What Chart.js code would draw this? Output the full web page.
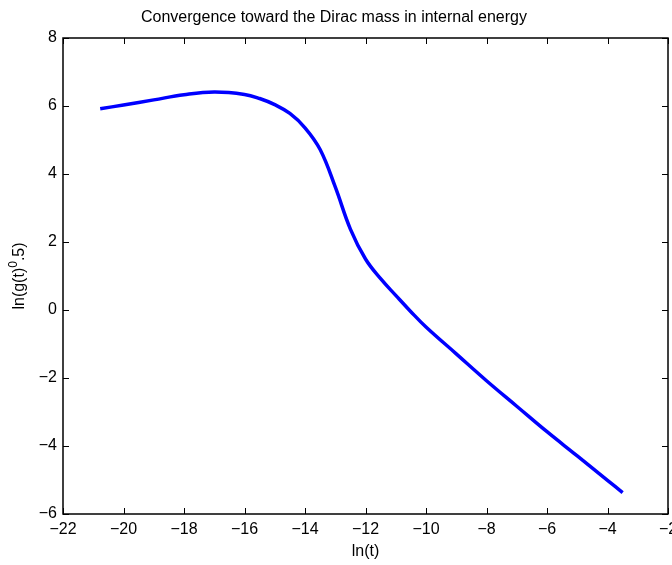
<!DOCTYPE html>
<html>
<head>
<meta charset="utf-8">
<script src="https://cdn.jsdelivr.net/npm/chart.js@4/dist/chart.umd.min.js"></script>
<style>
html,body{margin:0;padding:0;background:#fff;}
#wrap{width:672px;height:565px;}
</style>
</head>
<body>
<div id="wrap"><canvas id="c" width="672" height="565"></canvas></div>
<script>
const lnT = [-20.77, -20, -19, -18, -17, -16, -15.5, -15, -14.5, -14, -13.5, -13, -12.5, -12, -11.5, -11, -10.5, -10, -9, -8, -7, -6, -5, -4, -3.5];
const lnG = [5.92, 6.03, 6.18, 6.33, 6.41, 6.34, 6.22, 6.04, 5.78, 5.36, 4.72, 3.62, 2.38, 1.50, 0.92, 0.43, -0.05, -0.50, -1.29, -2.08, -2.83, -3.58, -4.29, -5.01, -5.37];
const xTicks = [-22, -20, -18, -16, -14, -12, -10, -8, -6, -4, -2];
const yTicks = [-6, -4, -2, 0, 2, 4, 6, 8];
const titleText = 'Convergence toward the Dirac mass in internal energy';
const xLabel = 'ln(t)';
const yLabelParts = ['ln(g(t)', '0', '.5)'];

const FONT = "'Liberation Sans', Arial, Helvetica, sans-serif";
const minus = v => String(v).replace('-', '\u2212');

const boxPlugin = {
  id: 'box',
  afterDraw(chart) {
    const ctx = chart.ctx, a = chart.chartArea;
    const xs = chart.scales.x, ys = chart.scales.y;
    ctx.save();
    ctx.strokeStyle = '#000';
    ctx.lineWidth = 1.5;
    ctx.strokeRect(a.left, a.top, a.right - a.left, a.bottom - a.top);
    ctx.lineWidth = 1;
    ctx.beginPath();
    const L = 6;
    xTicks.forEach(v => {
      const p = Math.round(xs.getPixelForValue(v)) + 0.5;
      ctx.moveTo(p, a.bottom); ctx.lineTo(p, a.bottom - L);
      ctx.moveTo(p, a.top); ctx.lineTo(p, a.top + L);
    });
    yTicks.forEach(v => {
      const p = Math.round(ys.getPixelForValue(v)) + 0.5;
      ctx.moveTo(a.left, p); ctx.lineTo(a.left + L, p);
      ctx.moveTo(a.right, p); ctx.lineTo(a.right - L, p);
    });
    ctx.stroke();
    // y-axis title with superscript
    const big = "16px " + FONT, small = "12px " + FONT;
    ctx.font = big; const w1 = ctx.measureText(yLabelParts[0]).width;
    const w3 = ctx.measureText(yLabelParts[2]).width;
    ctx.font = small; const w2 = ctx.measureText(yLabelParts[1]).width;
    const total = w1 + w2 + w3;
    const cy = (a.top + a.bottom) / 2;
    ctx.translate(24, cy);
    ctx.rotate(-Math.PI / 2);
    ctx.fillStyle = '#000';
    ctx.textBaseline = 'alphabetic';
    ctx.textAlign = 'left';
    let x0 = -total / 2;
    ctx.font = big; ctx.fillText(yLabelParts[0], x0, 0); x0 += w1;
    ctx.font = small; ctx.fillText(yLabelParts[1], x0, -7); x0 += w2;
    ctx.font = big; ctx.fillText(yLabelParts[2], x0, 0);
    ctx.restore();
  }
};

new Chart(document.getElementById('c'), {
  type: 'line',
  data: {
    datasets: [{
      data: lnT.map((x, i) => ({x: x, y: lnG[i]})),
      borderColor: '#0000ff',
      borderWidth: 3.5,
      pointRadius: 0,
      fill: false,
      tension: 0.4
    }]
  },
  options: {
    responsive: false,
    animation: false,
    layout: {padding: {left: 0, right: 4, top: 0, bottom: 0}},
    plugins: {
      legend: {display: false},
      tooltip: {enabled: false},
      title: {
        display: true,
        text: titleText,
        color: '#000',
        font: {family: FONT, size: 16, weight: 'normal'},
        lineHeight: 1.2,
        padding: {top: 8, bottom: 10.8}
      }
    },
    scales: {
      x: {
        type: 'linear',
        min: -22, max: -2,
        afterBuildTicks: s => { s.ticks = xTicks.map(v => ({value: v})); },
        afterFit: s => { s.height = 51; s.paddingLeft = 0; s.paddingRight = 0; },
        grid: {display: false, drawTicks: false},
        border: {display: false},
        ticks: {color: '#000', font: {family: FONT, size: 16}, padding: 6, maxRotation: 0, callback: v => minus(v)},
        title: {display: true, text: xLabel, color: '#000', font: {family: FONT, size: 16}, padding: {top: 0, bottom: 4}}
      },
      y: {
        type: 'linear',
        min: -6, max: 8,
        afterBuildTicks: s => { s.ticks = yTicks.map(v => ({value: v})); },
        afterFit: s => { s.width = 63; s.paddingTop = 0; s.paddingBottom = 0; },
        grid: {display: false, drawTicks: false},
        border: {display: false},
        ticks: {color: '#000', font: {family: FONT, size: 16}, padding: 6, callback: v => minus(v)},
        title: {display: false}
      }
    }
  },
  plugins: [boxPlugin]
});
</script>
</body>
</html>
